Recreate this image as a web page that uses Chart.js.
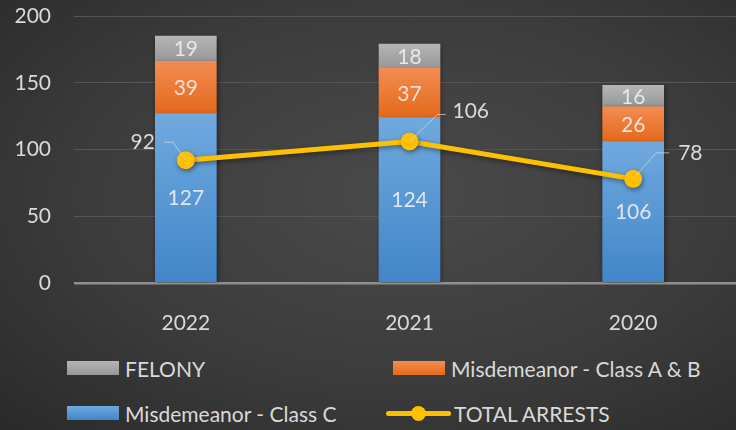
<!DOCTYPE html>
<html>
<head>
<meta charset="utf-8">
<script src="https://cdn.jsdelivr.net/npm/chart.js@4"></script>
<style>
  html, body { margin: 0; padding: 0; }
  body {
    width: 736px; height: 430px; overflow: hidden; position: relative;
    background: radial-gradient(ellipse at 55% 45%, #4a4a4a 0%, #3c3c3c 55%, #2a2a2a 100%);
    font-family: Lato, 'Open Sans', sans-serif;
  }
  #wrap { position: absolute; left: 0; top: 0; width: 745px; height: 330px; }
  .lg { position: absolute; color: #d9d9d9; font-size: 21px; display: flex; align-items: center; height: 26px; white-space: nowrap; }
  .sw { width: 52px; height: 14px; margin-right: 6px; }
  .ln { width: 65px; height: 26px; position: relative; margin-right: 3px; }
  .ln i { position: absolute; left: 0; right: 0; top: 11px; height: 5px; background: #ffc000; border-radius: 3px; }
  .ln b { position: absolute; left: 25px; top: 6px; width: 15px; height: 15px; background: #ffc000; border-radius: 50%; }
</style>
</head>
<body>
<div id="wrap"><canvas id="chart"></canvas></div>
<div id="legend"></div>
<script>
// Arrests by year
const years = ['2022', '2021', '2020'];
const felony = [19, 18, 16];
const classAB = [39, 37, 26];
const classC = [127, 124, 106];
const totalArrests = [92, 106, 78];
const yTicks = [0, 50, 100, 150, 200];

const textColor = '#d9d9d9';
const labelFont = '21px Lato, sans-serif';

// gradient stops for each bar series (top colour, bottom colour)
const barShades = {
    'FELONY': ['#b5b5b5', '#979797'],
    'Misdemeanor - Class A & B': ['#f38c52', '#e4691b'],
    'Misdemeanor - Class C': ['#70a9de', '#4186c9']
};

// where the total labels sit relative to their points: dx, dy, align, leader bend
const totalLabelPos = [
    { dx: -31, dy: -18, align: 'right', bend: [-13, -18], end: [-22, -18] },
    { dx: 43, dy: -30, align: 'left', bend: [28, -27], end: [36, -27] },
    { dx: 45, dy: -26, align: 'left', bend: [23, -26], end: [36, -26] }
];

const barGradients = {
    id: 'barGradients',
    beforeDatasetsDraw(chart) {
        const ctx = chart.ctx;
        chart.data.datasets.forEach((ds, i) => {
            if (ds.type === 'line') return;
            const shade = barShades[ds.label];
            chart.getDatasetMeta(i).data.forEach(el => {
                const g = ctx.createLinearGradient(0, el.y, 0, el.base);
                g.addColorStop(0, shade[0]);
                g.addColorStop(1, shade[1]);
                el.options = Object.assign({}, el.options, { backgroundColor: g });
            });
        });
    },
    beforeDatasetDraw(chart) {
        const ctx = chart.ctx;
        ctx.save();
        ctx.shadowColor = 'rgba(0,0,0,0.45)';
        ctx.shadowBlur = 5;
        ctx.shadowOffsetX = 1;
        ctx.shadowOffsetY = 2;
    },
    afterDatasetDraw(chart) {
        chart.ctx.restore();
    }
};

const valueLabels = {
    id: 'valueLabels',
    afterDatasetsDraw(chart) {
        const ctx = chart.ctx;
        ctx.save();
        ctx.font = labelFont;
        ctx.textBaseline = 'middle';
        chart.data.datasets.forEach((ds, i) => {
            const meta = chart.getDatasetMeta(i);
            meta.data.forEach((el, j) => {
                if (ds.type === 'line') {
                    const p = totalLabelPos[j];
                    ctx.strokeStyle = 'rgba(220,220,220,0.7)';
                    ctx.lineWidth = 1;
                    ctx.beginPath();
                    ctx.moveTo(el.x, el.y);
                    ctx.lineTo(el.x + p.bend[0], el.y + p.bend[1]);
                    ctx.lineTo(el.x + p.end[0], el.y + p.end[1]);
                    ctx.stroke();
                    ctx.fillStyle = textColor;
                    ctx.textAlign = p.align;
                    ctx.fillText(ds.data[j], el.x + p.dx, el.y + p.dy);
                } else {
                    ctx.fillStyle = 'rgba(240,240,240,0.88)';
                    ctx.textAlign = 'center';
                    ctx.fillText(ds.data[j], el.x, (el.y + el.base) / 2 + 1);
                }
            });
        });
        ctx.restore();
    }
};

new Chart(document.getElementById('chart').getContext('2d'), {
    data: {
        labels: years,
        datasets: [
            {
                type: 'line',
                label: 'TOTAL ARRESTS',
                data: totalArrests,
                stack: 'total',
                order: 0,
                borderColor: '#ffc000',
                backgroundColor: '#ffc000',
                borderWidth: 5,
                pointRadius: 9,
                pointBorderWidth: 0,
                pointBackgroundColor: '#ffc000'
            },
            { type: 'bar', label: 'Misdemeanor - Class C', data: classC, stack: 'arrests', order: 1, backgroundColor: '#5b9bd5', barThickness: 61 },
            { type: 'bar', label: 'Misdemeanor - Class A & B', data: classAB, stack: 'arrests', order: 1, backgroundColor: '#ed7d31', barThickness: 61 },
            { type: 'bar', label: 'FELONY', data: felony, stack: 'arrests', order: 1, backgroundColor: '#a5a5a5', barThickness: 61 }
        ]
    },
    options: {
        responsive: true,
        maintainAspectRatio: false,
        animation: false,
        layout: { autoPadding: false, padding: { top: 16, right: 0, left: 0, bottom: 0 } },
        plugins: {
            legend: { display: false },
            tooltip: { enabled: false }
        },
        scales: {
            x: {
                stacked: true,
                grid: { display: false },
                border: { display: false },
                ticks: { color: textColor, font: { family: 'Lato', size: 21 }, padding: 20 },
                afterFit(scale) { scale.height = 47; scale.paddingLeft = 0; scale.paddingRight = 0; }
            },
            y: {
                stacked: true,
                min: 0,
                max: 200,
                afterBuildTicks(scale) { scale.ticks = yTicks.map(v => ({ value: v })); },
                grid: {
                    drawTicks: false,
                    color: ctx => ctx.tick && ctx.tick.value === 0 ? '#8f8f8f' : '#565656',
                    lineWidth: ctx => ctx.tick && ctx.tick.value === 0 ? 2.5 : 1
                },
                border: { display: false },
                ticks: { color: textColor, font: { family: 'Lato', size: 21 }, padding: 23 },
                afterFit(scale) { scale.width = 74; scale.paddingTop = 0; scale.paddingBottom = 0; }
            }
        }
    },
    plugins: [barGradients, valueLabels]
});

// legend, two columns like the original
const legendItems = [
    { label: 'FELONY', kind: 'bar', x: 67, y: 355 },
    { label: 'Misdemeanor - Class A & B', kind: 'bar', x: 393, y: 355 },
    { label: 'Misdemeanor - Class C', kind: 'bar', x: 67, y: 400 },
    { label: 'TOTAL ARRESTS', kind: 'line', x: 386, y: 400 }
];
const legendEl = document.getElementById('legend');
legendItems.forEach(item => {
    const d = document.createElement('div');
    d.className = 'lg';
    d.style.left = item.x + 'px';
    d.style.top = item.y + 'px';
    if (item.kind === 'bar') {
        const s = barShades[item.label];
        d.innerHTML = '<span class="sw" style="background:linear-gradient(' + s[0] + ',' + s[1] + ')"></span>';
    } else {
        d.innerHTML = '<span class="ln"><i></i><b></b></span>';
    }
    d.appendChild(document.createTextNode(item.label));
    legendEl.appendChild(d);
});
</script>
</body>
</html>
